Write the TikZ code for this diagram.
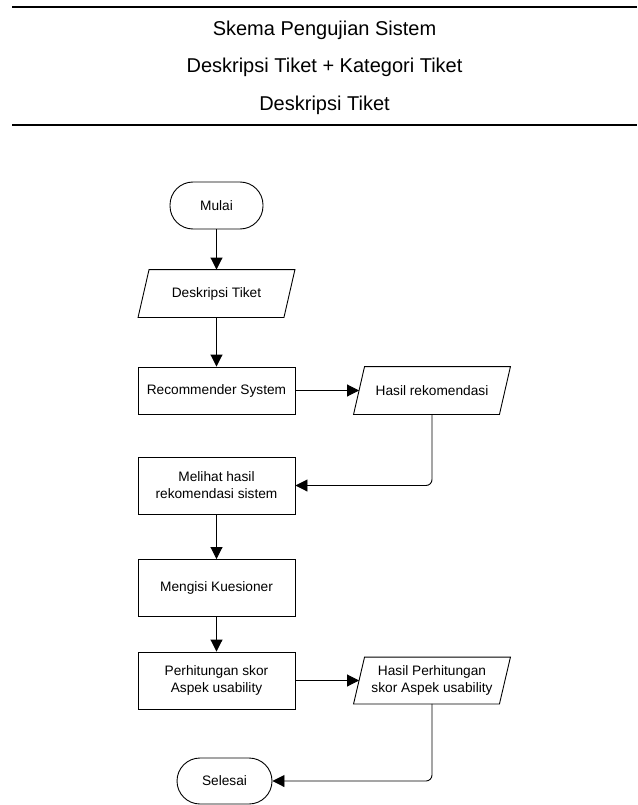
\documentclass[tikz,border=0pt]{standalone}
\usepackage{fontspec}
\setmainfont{Liberation Sans}
\usetikzlibrary{arrows.meta}

% parallelogram frame round a data node
\newcommand{\ioframe}[1]{\draw ([xshift=5.5pt]#1.north west) -- ([xshift=5.5pt]#1.north east)
  -- ([xshift=-5.5pt]#1.south east) -- ([xshift=-5.5pt]#1.south west) -- cycle;}

\begin{document}
\begin{tikzpicture}[x=1pt,y=-1pt,
  font=\fontsize{13.7}{17}\selectfont, line width=0.9pt,
  term/.style={draw, rectangle, rounded corners=23pt, minimum width=93pt, minimum height=47pt},
  proc/.style={draw, rectangle, minimum width=157pt, minimum height=57pt, align=center},
  io/.style={rectangle, minimum width=145pt, minimum height=47pt, align=center},
  arr/.style={-{Triangle[length=12pt,width=12pt]}},
  headtext/.style={anchor=base, font=\fontsize{20}{24}\selectfont},
  headline/.style={line width=2pt}]
\useasboundingbox (0,0) rectangle (637,805);
% table head
\coordinate (ht1) at (12,7.5);
\coordinate (ht2) at (637,7.5);
\coordinate (hb1) at (12,125);
\coordinate (hb2) at (637,125);
\draw[headline] (ht1) -- (ht2);
\draw[headline] (hb1) -- (hb2);
\node[headtext] (h1) at (324.5,35.5) {Skema Pengujian Sistem};
\node[headtext] (h2) at (324.5,73) {Deskripsi Tiket + Kategori Tiket};
\node[headtext] (h3) at (324.5,111) {Deskripsi Tiket};
% flowchart
\node[term] (mulai) at (216.5,205.5) {Mulai};
\node[io] (desk) at (216.5,293.5) {Deskripsi Tiket};
\node[proc, minimum height=47pt] (recsys) at (216.5,390.5) {Recommender System};
\node[io] (hasilrek) at (432,390.5) {Hasil rekomendasi};
\node[proc] (melihat) at (216.5,485.5) {Melihat hasil\\rekomendasi sistem};
\node[proc] (kuesioner) at (216.5,588) {Mengisi Kuesioner};
\node[proc] (skor) at (216.5,680.5) {Perhitungan skor\\Aspek usability};
\node[io, minimum height=46pt] (hasilskor) at (432,680.5) {Hasil Perhitungan\\skor Aspek usability};
\node[term, minimum height=46pt, minimum width=95pt] (selesai) at (224.5,781) {Selesai};
\ioframe{desk}
\ioframe{hasilrek}
\ioframe{hasilskor}
% connectors
\draw[arr] (mulai) -- (desk);
\draw[arr] (desk) -- (recsys);
\draw[arr] (recsys) -- (hasilrek);
\draw[arr, rounded corners=6pt] (hasilrek.south) |- (melihat.east);
\draw[arr] (melihat) -- (kuesioner);
\draw[arr] (kuesioner) -- (skor);
\draw[arr] (skor) -- (hasilskor);
\draw[arr, rounded corners=6pt] (hasilskor.south) |- (selesai.east);
\end{tikzpicture}
\end{document}
